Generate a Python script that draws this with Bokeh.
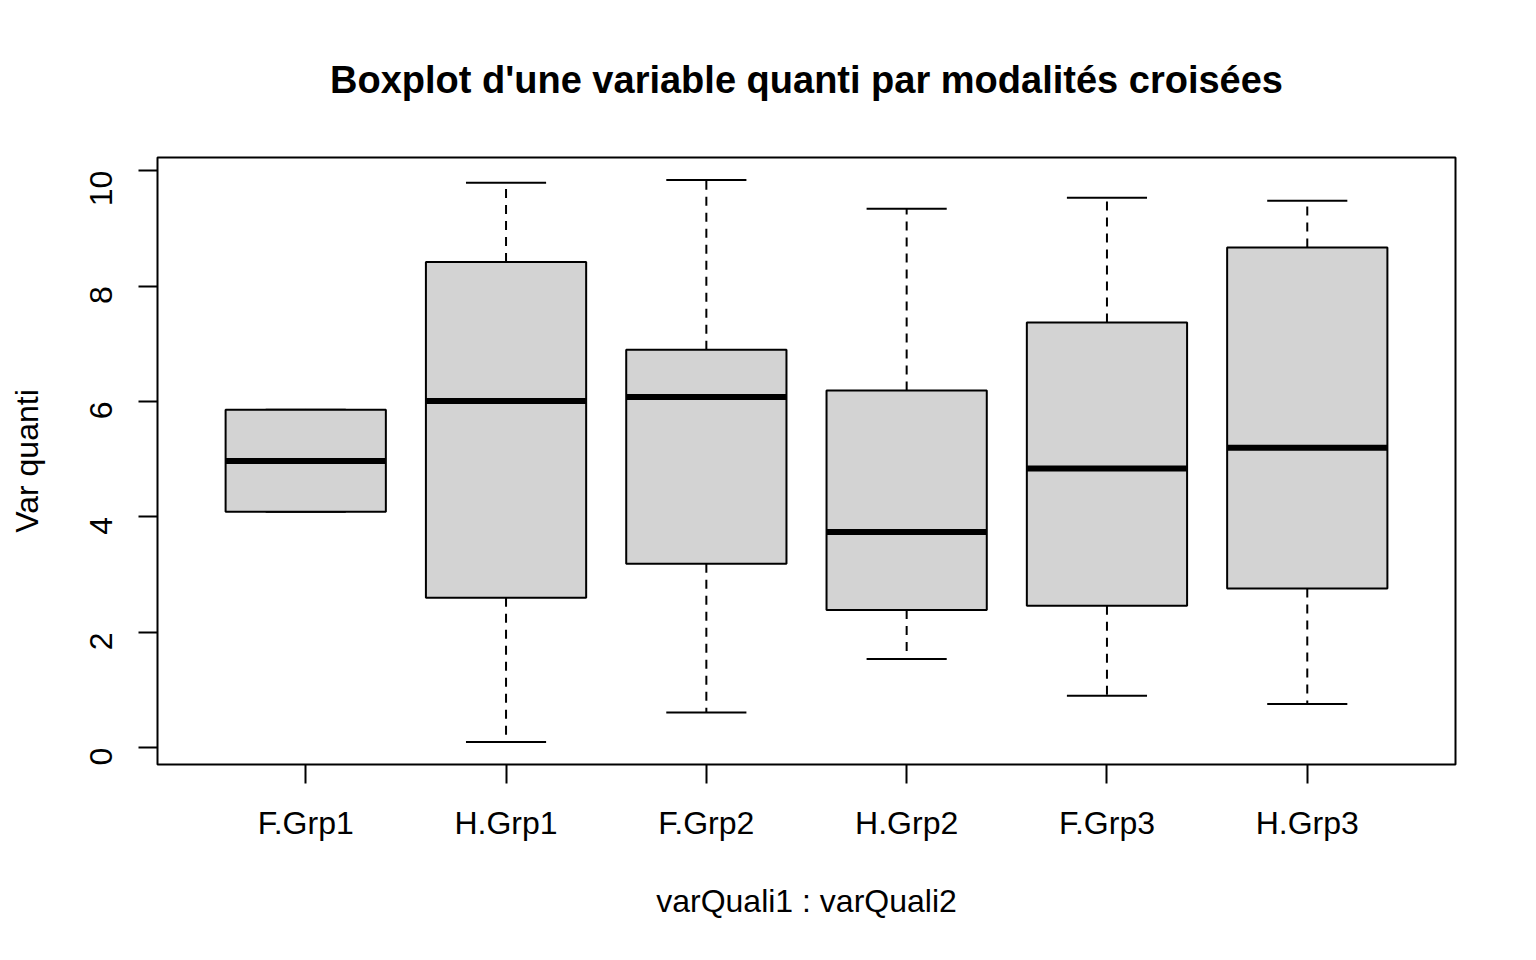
import math
from bokeh.plotting import figure
from bokeh.models import ColumnDataSource, Range1d, FixedTicker
from bokeh.embed import file_html
from bokeh.resources import INLINE

# ---- data ----
categories = ["F.Grp1", "H.Grp1", "F.Grp2", "H.Grp2", "F.Grp3", "H.Grp3"]
lower_whisker = [4.09, 0.10, 0.61, 1.54, 0.90, 0.76]
q1 = [4.09, 2.60, 3.19, 2.39, 2.46, 2.76]
median = [4.97, 6.01, 6.08, 3.74, 4.84, 5.20]
q3 = [5.86, 8.42, 6.90, 6.19, 7.37, 8.67]
upper_whisker = [5.86, 9.79, 9.84, 9.34, 9.53, 9.48]
y_ticks = [0, 2, 4, 6, 8, 10]

FONT = "Liberation Sans"
BOX_W = 0.8
CAP_W = 0.4

n = len(categories)
xs = [i + 1 for i in range(n)]
src = ColumnDataSource(dict(
    x=xs,
    x0=[x - BOX_W / 2 for x in xs], x1=[x + BOX_W / 2 for x in xs],
    c0=[x - CAP_W / 2 for x in xs], c1=[x + CAP_W / 2 for x in xs],
    lw=lower_whisker, q1=q1, med=median, q3=q3, uw=upper_whisker,
))

# R-style 4% range extension
ymin, ymax = min(lower_whisker), max(upper_whisker)
ypad = 0.04 * (ymax - ymin)
xpad = 0.04 * n

p = figure(
    output_backend="svg", toolbar_location=None,
    width=1528, height=944,
    frame_width=1298, frame_height=607,
    min_border_left=157, min_border_right=73,
    min_border_top=157, min_border_bottom=180,
    x_range=Range1d(0.5 - xpad, n + 0.5 + xpad),
    y_range=Range1d(ymin - ypad, ymax + ypad),
    title="Boxplot d'une variable quanti par modalités croisées",
)
p.background_fill_color = "white"
p.border_fill_color = "white"
p.outline_line_color = "black"
p.outline_line_width = 2
p.xgrid.visible = False
p.ygrid.visible = False

p.title.align = "center"
p.title.text_font = FONT
p.title.text_font_size = "38px"
p.title.text_font_style = "bold"
p.title.text_color = "black"
p.title.standoff = 113

# whiskers (dashed)
p.segment(x0="x", y0="q3", x1="x", y1="uw", source=src, line_color="black",
          line_width=2, line_dash="9 7")
p.segment(x0="x", y0="q1", x1="x", y1="lw", source=src, line_color="black",
          line_width=2, line_dash="9 7")
# caps
p.segment(x0="c0", y0="uw", x1="c1", y1="uw", source=src, line_color="black", line_width=2)
p.segment(x0="c0", y0="lw", x1="c1", y1="lw", source=src, line_color="black", line_width=2)
# boxes
p.vbar(x="x", width=BOX_W, bottom="q1", top="q3", source=src,
       fill_color="#D3D3D3", line_color="black", line_width=2)
# medians
p.segment(x0="x0", y0="med", x1="x1", y1="med", source=src, line_color="black",
          line_width=6, line_cap="butt")

# axes
xa = p.xaxis[0]
xa.ticker = FixedTicker(ticks=xs)
xa.major_label_overrides = {x: c for x, c in zip(xs, categories)}
xa.axis_label = "varQuali1 : varQuali2"
xa.axis_label_standoff = 39

ya = p.yaxis[0]
ya.ticker = FixedTicker(ticks=y_ticks)
ya.major_label_orientation = math.pi / 2
ya.axis_label = "Var quanti"
ya.axis_label_standoff = 32

for ax in (xa, ya):
    ax.axis_line_color = None
    ax.major_tick_in = 0
    ax.major_tick_out = 19
    ax.major_tick_line_width = 2
    ax.major_tick_line_color = "black"
    ax.minor_tick_line_color = None
    ax.major_label_text_font = FONT
    ax.major_label_text_font_size = "32px"
    ax.major_label_text_color = "black"
    ax.axis_label_text_font = FONT
    ax.axis_label_text_font_size = "32px"
    ax.axis_label_text_font_style = "normal"
    ax.axis_label_text_color = "black"
xa.major_label_standoff = 21
ya.major_label_standoff = 37

open("out.html", "w").write(file_html(p, INLINE))
